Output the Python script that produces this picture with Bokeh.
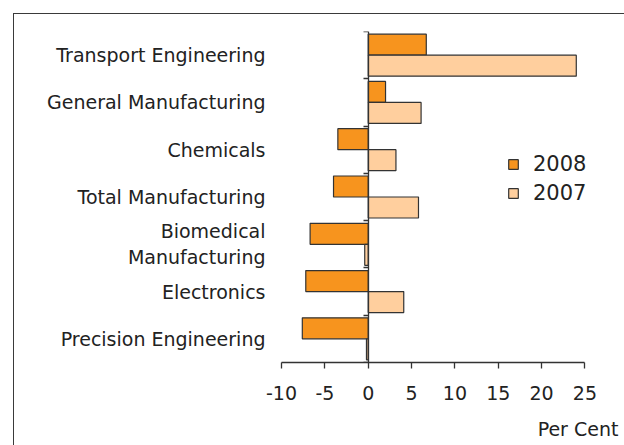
from bokeh.plotting import figure
from bokeh.models import (ColumnDataSource, FixedTicker, LinearAxis, Range1d, Legend,
                          LegendItem, InlineStyleSheet)
from bokeh.transform import dodge
from bokeh.embed import file_html
from bokeh.resources import INLINE

categories = ["Precision Engineering", "Electronics", "Biomedical\nManufacturing",
              "Total Manufacturing", "Chemicals", "General Manufacturing",
              "Transport Engineering"]
values_2008 = [-7.6, -7.2, -6.7, -4.0, -3.5, 2.0, 6.7]
values_2007 = [-0.2, 4.1, -0.4, 5.8, 3.2, 6.1, 24.0]
x_ticks = [-10, -5, 0, 5, 10, 15, 20, 25]
x_tick_labels = ["-10", "-5", "0", "5", "10", "15", "20", "25"]
x_title = "Per Cent"
x_title_at = 24.2

pos = list(range(len(categories)))
src = ColumnDataSource(dict(pos=pos, v08=values_2008, v07=values_2007))

FONT = "DejaVu Sans"
TXT = "#222222"
LINE = "#333333"

border_css = InlineStyleSheet(css="""
:host { position: relative; }
:host::after {
  content: ""; position: absolute; left: 13px; top: 13px; right: 0; bottom: 0;
  border-left: 1.5px solid #3a3a3a; border-top: 1.5px solid #3a3a3a;
  pointer-events: none; z-index: 100;
}
""")

p = figure(width=624, height=445, output_backend="svg", toolbar_location=None,
           x_range=Range1d(-10, 29.1), y_range=Range1d(-0.5, len(categories) - 0.5),
           min_border_left=281, min_border_right=4, min_border_top=31,
           min_border_bottom=83, stylesheets=[border_css])
p.outline_line_color = None
p.grid.visible = False
p.background_fill_color = "white"

bh = 0.444
r08 = p.hbar(y=dodge("pos", bh / 2, range=p.y_range), left=0, right="v08", height=bh,
             source=src, fill_color="#F7941E", line_color=LINE, line_width=1.2)
r07 = p.hbar(y=dodge("pos", -bh / 2, range=p.y_range), left=0, right="v07", height=bh,
             source=src, fill_color="#FFCF9E", line_color=LINE, line_width=1.2)

# category label axis
ya = p.yaxis[0]
ya.ticker = FixedTicker(ticks=pos)
ya.major_label_overrides = {i: c for i, c in zip(pos, categories)}
ya.axis_line_color = None
ya.major_tick_line_color = None
ya.minor_tick_line_color = None
ya.major_label_standoff = 10
ya.major_label_text_font = FONT
ya.major_label_text_font_size = "19px"
ya.major_label_text_color = TXT

# zero axis with boundary ticks
za = LinearAxis(fixed_location=0,
                ticker=FixedTicker(ticks=[i - 0.5 for i in range(len(categories) + 1)]))
za.axis_line_color = LINE
za.axis_line_width = 1.3
za.major_tick_line_color = LINE
za.major_tick_line_width = 1.3
za.major_tick_out = 5
za.major_tick_in = 0
za.minor_tick_line_color = None
za.major_label_text_font_size = "0px"
za.major_label_text_color = None
p.add_layout(za, "left")

xa = p.xaxis[0]
xa.ticker = FixedTicker(ticks=x_ticks)
xa.major_label_overrides = {t: s for t, s in zip(x_ticks, x_tick_labels)}
xa.bounds = (x_ticks[0], x_ticks[-1])
xa.axis_line_color = LINE
xa.axis_line_width = 1.3
xa.major_tick_line_color = LINE
xa.major_tick_line_width = 1.3
xa.major_tick_out = 6
xa.major_tick_in = 0
xa.minor_tick_line_color = None
xa.major_label_standoff = 17
xa.major_label_text_font = FONT
xa.major_label_text_font_size = "19px"
xa.major_label_text_color = TXT

# "Per Cent" caption as a label-only axis under the main x axis
ta = LinearAxis(ticker=FixedTicker(ticks=[x_title_at]),
                major_label_overrides={x_title_at: x_title})
ta.axis_line_color = None
ta.major_tick_line_color = None
ta.minor_tick_line_color = None
ta.major_label_standoff = 9
ta.major_label_text_font = FONT
ta.major_label_text_font_size = "19px"
ta.major_label_text_color = TXT
p.add_layout(ta, "below")

legend = Legend(items=[LegendItem(label="2008", renderers=[r08]),
                       LegendItem(label="2007", renderers=[r07])],
                location=(226, 157), padding=0, margin=0, spacing=5,
                glyph_width=12, glyph_height=12, label_standoff=14,
                label_text_font=FONT, label_text_font_size="21px",
                label_text_color=TXT, border_line_color=None,
                background_fill_alpha=0)
p.add_layout(legend, "center")

open("out.html", "w").write(file_html(p, INLINE))
